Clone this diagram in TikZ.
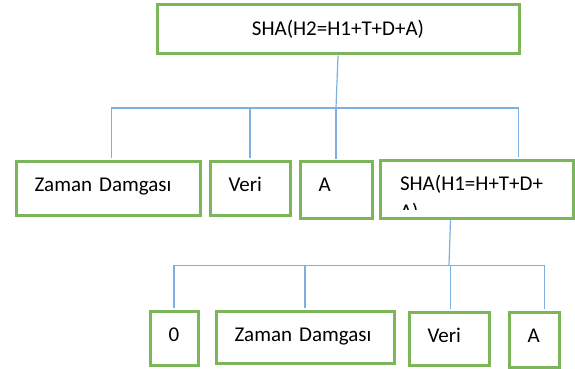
\documentclass[tikz,border=0pt]{standalone}
\usepackage{fontspec}
\setmainfont{Carlito}
\definecolor{boxgreen}{HTML}{7DB55A}
\definecolor{linkblue}{HTML}{7DB0E0}
\begin{document}
\begin{tikzpicture}[x=1pt,y=-1pt,
  cell/.style={draw=boxgreen, line width=3pt, fill=white, anchor=north west,
    inner xsep=18.5pt, inner ysep=0pt, align=left, text height=30.2pt,
    font=\fontsize{21}{28}\selectfont},
  box/.style 2 args={cell, text width=#1, text depth=#2},
  link/.style={draw=linkblue, line width=1.2pt, shorten >=1.5pt}]
\useasboundingbox (0,0) rectangle (575,369);

% root hash
\node[box={325pt}{18.8pt}, align=center] (top) at (155.5,3.5) {SHA(H2=H1+T+D+A)};

% first block fields
\node[box={147pt}{23.8pt}] (zd1) at (14.5,159.5) {Zaman Damgası};
\node[box={43pt}{23.8pt}]  (v1)  at (208.5,159.5) {Veri};
\node[box={35pt}{26.3pt}]  (a1)  at (298.5,160) {A};
\node[box={156pt}{27.8pt},
  path picture={
    \clip (path picture bounding box.north west) rectangle
          ([yshift=-49pt]path picture bounding box.north east);
    \node[anchor=base west, inner sep=0pt, font=\fontsize{21}{28}\selectfont]
      at ([xshift=18.5pt,yshift=-30.2pt]path picture bounding box.north west)
      {\parbox[t]{160pt}{\raggedright SHA(H1=H+T+D+\\A)}};
  }] (sha1) at (378.5,158.5) {};

% genesis block fields
\node[box={11pt}{23.8pt}]  (z0)  at (148.5,309.5) {0};
\node[box={141pt}{21.8pt}] (zd2) at (214.5,309.5) {Zaman Damgası};
\node[box={43pt}{22.8pt}]  (v2)  at (407.5,310.5) {Veri};
\node[box={13pt}{24.8pt}]  (a2)  at (507.5,310.5) {A};

% connectors from the root
\coordinate (j1) at (336,108);
\draw[link, shorten >=0pt] (top.south) -- (j1);
\draw[link] (j1) -| ([xshift=3.5pt]zd1.north);
\draw[link] (j1) -| (v1.north);
\draw[link] (j1) -| (a1.north);
\draw[link] (j1) -| ([xshift=42pt]sha1.north);

% connectors from the inner hash
\coordinate (j2) at (449,265.5);
\draw[link, shorten >=0pt] ([xshift=-26pt]sha1.south) -- (j2);
\draw[link] (j2) -| (z0.north);
\draw[link] (j2) -| (zd2.north);
\draw[link] (j2) -| ([xshift=1.5pt]v2.north);
\draw[link] (j2) -| ([xshift=10.5pt]a2.north);
\end{tikzpicture}
\end{document}
